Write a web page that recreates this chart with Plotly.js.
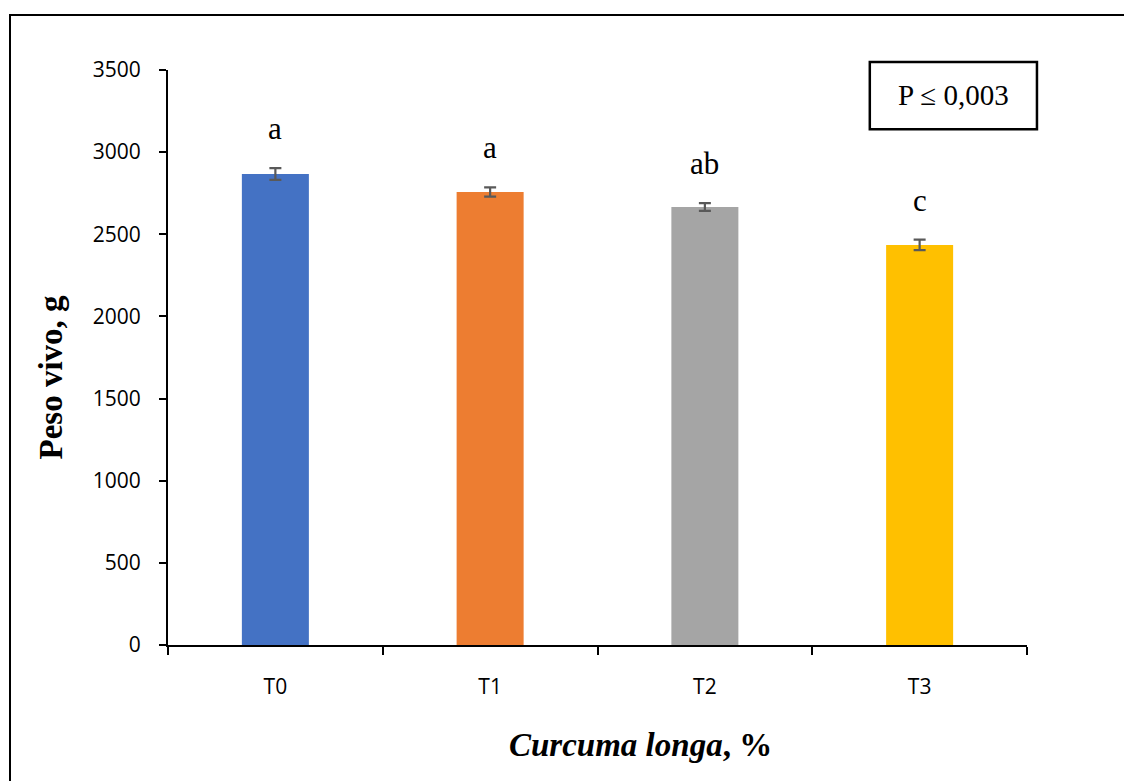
<!DOCTYPE html>
<html>
<head>
<meta charset="utf-8">
<script src="https://cdn.plot.ly/plotly-3.0.1.min.js"></script>
<style>
html,body{margin:0;padding:0;background:#fff;overflow:hidden;}
#chart{position:absolute;left:0;top:0;width:1124px;height:781px;}
#frame{position:absolute;left:9px;top:14px;width:1200px;height:900px;border-left:2px solid #000;border-top:2px solid #000;pointer-events:none;}
</style>
</head>
<body>
<div id="chart"></div>
<div id="frame"></div>
<script>
const categories = ["T0", "T1", "T2", "T3"];
const pesoVivo = [2867, 2757, 2666, 2435];
const errores = [36, 28, 24, 32];
const letras = ["a", "a", "ab", "c"];
const colores = ["#4472C4", "#ED7D31", "#A5A5A5", "#FFC000"];
const pTexto = "P ≤ 0,003";

const trace = {
  type: "bar",
  x: categories,
  y: pesoVivo,
  width: 0.312,
  marker: {color: colores},
  error_y: {type: "data", array: errores, visible: true, color: "#595959", thickness: 2.2, width: 6},
  hoverinfo: "x+y"
};

const serif = "Liberation Serif, Times New Roman, serif";
const annotations = categories.map((c, i) => ({
  x: c, y: pesoVivo[i] + errores[i], xref: "x", yref: "y",
  text: letras[i], showarrow: false, yanchor: "bottom", yshift: 20,
  font: {family: serif, size: 31, color: "#000"}
}));

annotations.push({
  xref: "paper", yref: "paper", x: 0.9144, y: 0.9557,
  text: pTexto, showarrow: false, xanchor: "center", yanchor: "middle",
  font: {family: serif, size: 29, color: "#000"}
});
annotations.push({
  xref: "paper", yref: "paper", x: 0.5, xshift: 43, y: 0, yshift: -100,
  text: "<b><i>Curcuma longa</i>, %</b>", showarrow: false, xanchor: "center", yanchor: "middle",
  font: {family: serif, size: 33, color: "#000"}
});
annotations.push({
  xref: "paper", yref: "paper", x: 0, xshift: -118, y: 0.5, yshift: -20,
  text: "<b>Peso vivo, g</b>", textangle: -90, showarrow: false, xanchor: "center", yanchor: "middle",
  font: {family: serif, size: 33, color: "#000"}
});

const tickFont = {family: "Liberation Sans Narrow, Open Sans, sans-serif", size: 21, color: "#000"};

const layout = {
  width: 1124, height: 781,
  margin: {l: 168, r: 97, t: 70, b: 136},
  paper_bgcolor: "#fff", plot_bgcolor: "#fff",
  showlegend: false,
  xaxis: {
    type: "category",
    showline: true, linecolor: "#000", linewidth: 2,
    ticks: "outside", tickson: "boundaries", ticklen: 8, tickwidth: 2, tickcolor: "#000",
    showgrid: false, zeroline: false,
    tickfont: tickFont,
    ticklabelstandoff: 22,
    range: [-0.5, 3.5]
  },
  yaxis: {
    range: [0, 3500], dtick: 500, tick0: 0,
    showline: true, linecolor: "#000", linewidth: 2,
    ticks: "outside", ticklen: 7, tickwidth: 2, tickcolor: "#000",
    showgrid: false, zeroline: false,
    tickfont: tickFont,
    ticklabelstandoff: 14
  },
  shapes: [{
    type: "rect", xref: "paper", yref: "paper",
    x0: 0.817, x1: 1.0116, y0: 0.897, y1: 1.0139,
    line: {color: "#000", width: 2.5}, fillcolor: "rgba(0,0,0,0)"
  }],
  annotations: annotations
};

Plotly.newPlot("chart", [trace], layout, {displayModeBar: false, staticPlot: true});
</script>
</body>
</html>
